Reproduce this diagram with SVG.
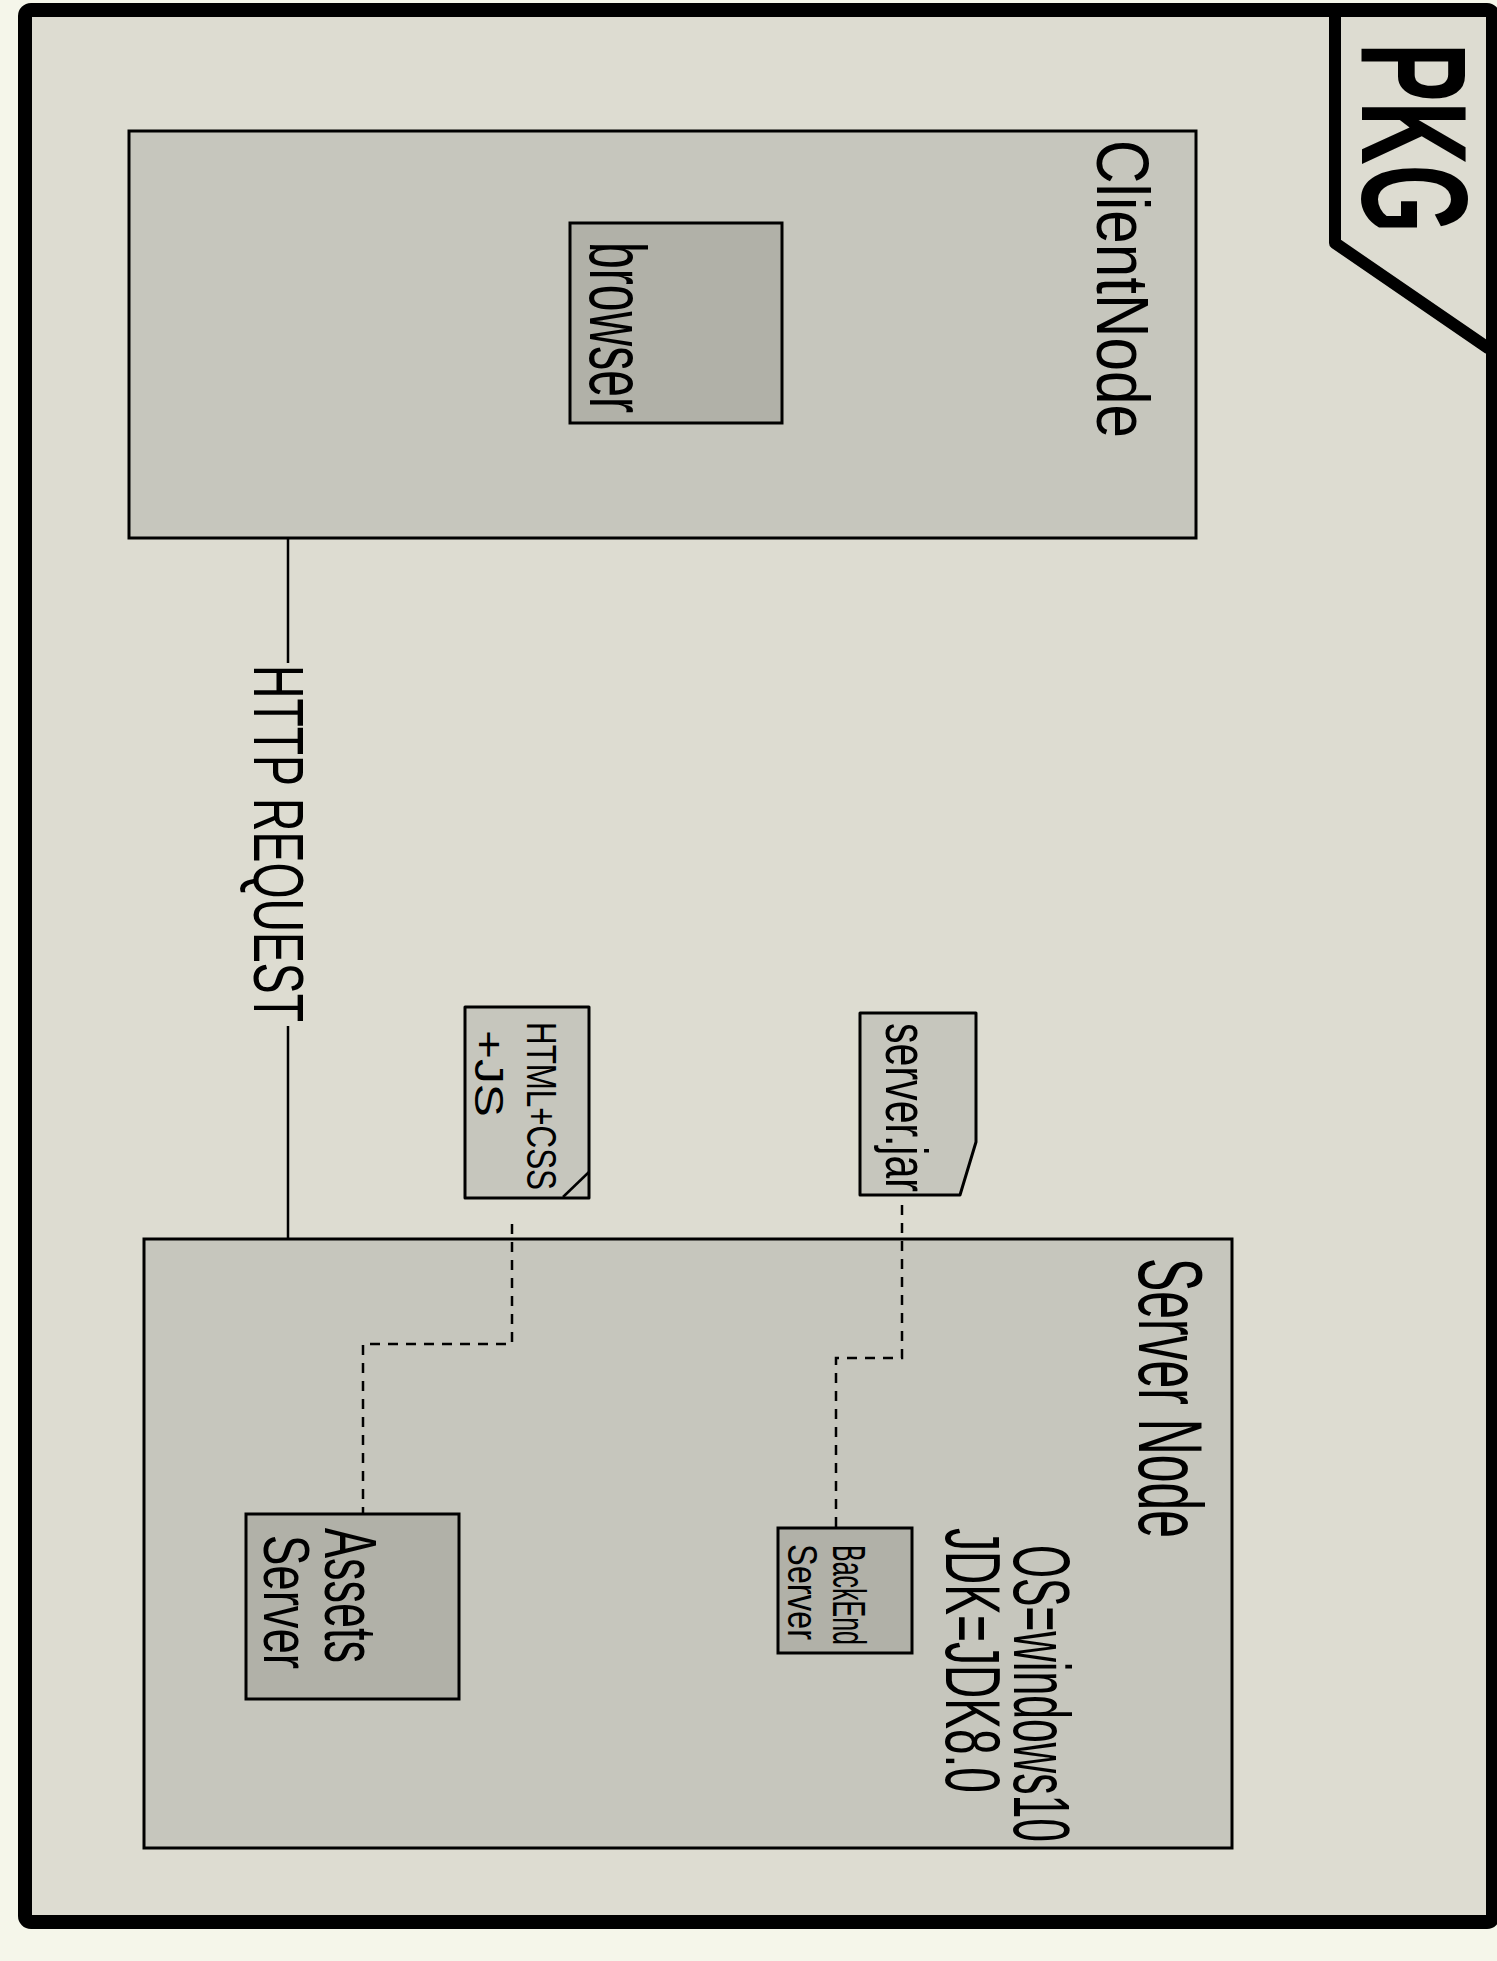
<svg xmlns="http://www.w3.org/2000/svg" width="1497" height="1961" viewBox="0 0 1497 1961">
<style>
.node{fill:#c6c6bd;stroke:#000;stroke-width:3}
.inner{fill:#b1b1a8;stroke:#000;stroke-width:3}
.art{fill:#c6c6bd;stroke:#000;stroke-width:3;stroke-linejoin:round}
.lbl{font-family:"Liberation Sans","DejaVu Sans",sans-serif;fill:#000}
.solid{fill:none;stroke:#000;stroke-width:2.5}
.dash{fill:none;stroke:#000;stroke-width:2.5;stroke-dasharray:10 8}
</style>
<rect width="1497" height="1961" fill="#f5f6ea"/>
<g id="package">
<rect x="25" y="10" width="1468" height="1912" rx="6" fill="#dddcd1" stroke="#000" stroke-width="14"/>
<path d="M1335,12 V243 L1488,348" fill="none" stroke="#000" stroke-width="12" stroke-linecap="round" stroke-linejoin="round"/>
<text class="lbl" font-size="150" font-weight="bold" textLength="190" lengthAdjust="spacingAndGlyphs" transform="translate(1362,43) rotate(90)">PKG</text>
</g>
<g id="client-node">
<rect class="node" x="129" y="131" width="1067" height="407"/>
<text class="lbl" font-size="75" textLength="298" lengthAdjust="spacingAndGlyphs" transform="translate(1097,140) rotate(90)">ClientNode</text>
</g>
<g id="browser">
<rect class="inner" x="570" y="223" width="212" height="200"/>
<text class="lbl" font-size="80" textLength="171" lengthAdjust="spacingAndGlyphs" transform="translate(590,242) rotate(90)">browser</text>
</g>
<g id="server-node">
<rect class="node" x="144" y="1239" width="1088" height="609"/>
<text class="lbl" font-size="90" textLength="280" lengthAdjust="spacingAndGlyphs" transform="translate(1139,1258) rotate(90)">Server Node</text>
<text class="lbl" font-size="80" textLength="297" lengthAdjust="spacingAndGlyphs" transform="translate(1014,1545) rotate(90)">OS=windows10</text>
<text class="lbl" font-size="78" textLength="265" lengthAdjust="spacingAndGlyphs" transform="translate(946,1528) rotate(90)">JDK=JDK8.0</text>
</g>
<g id="backend-server">
<rect class="inner" x="778" y="1528" width="134" height="125"/>
<text class="lbl" font-size="46" textLength="100" lengthAdjust="spacingAndGlyphs" transform="translate(833,1545) rotate(90)">BackEnd</text>
<text class="lbl" font-size="42" textLength="96" lengthAdjust="spacingAndGlyphs" transform="translate(788,1544) rotate(90)">Server</text>
</g>
<g id="assets-server">
<rect class="inner" x="246" y="1514" width="213" height="185"/>
<text class="lbl" font-size="75" textLength="135" lengthAdjust="spacingAndGlyphs" transform="translate(325,1528) rotate(90)">Assets</text>
<text class="lbl" font-size="65" textLength="134" lengthAdjust="spacingAndGlyphs" transform="translate(264,1535) rotate(90)">Server</text>
</g>
<g id="html-css-js">
<rect class="art" x="465" y="1007" width="124" height="191"/>
<path d="M563,1197 L589,1172" class="solid"/>
<text class="lbl" font-size="42" textLength="168" lengthAdjust="spacingAndGlyphs" transform="translate(527,1022) rotate(90)">HTML+CSS</text>
<text class="lbl" font-size="40" textLength="87" lengthAdjust="spacingAndGlyphs" transform="translate(475,1030) rotate(90)">+JS</text>
</g>
<g id="server-jar">
<path class="art" d="M860,1013 H976 V1142 L960,1195 H860 Z"/>
<text class="lbl" font-size="60" textLength="169" lengthAdjust="spacingAndGlyphs" transform="translate(886,1023) rotate(90)">server.jar</text>
</g>
<g id="connectors">
<path class="solid" d="M288,538 V663"/>
<path class="solid" d="M288,1026 V1239"/>
<text class="lbl" font-size="70" textLength="357" lengthAdjust="spacingAndGlyphs" transform="translate(254,665) rotate(90)">HTTP REQUEST</text>
<path class="dash" d="M512,1224 V1344 H363 V1514"/>
<path class="dash" d="M902,1205 V1358 H836 V1528"/>
</g>
</svg>
